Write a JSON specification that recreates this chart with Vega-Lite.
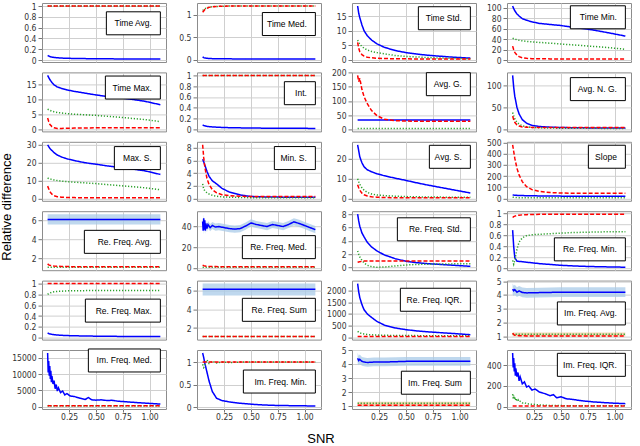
{
  "$schema": "https://vega.github.io/schema/vega-lite/v6.json",
  "background": "white",
  "padding": {"left": 0, "top": 1, "right": 0, "bottom": 0},
  "config": {
    "font": "Liberation Sans",
    "view": {"stroke": "#8c8c8c", "strokeWidth": 1},
    "axis": {
      "grid": true, "gridColor": "#cfcfcf", "gridWidth": 1, "domain": false,
      "tickColor": "#777", "tickSize": 4, "labelFont": "Liberation Sans Narrow, DejaVu Sans Condensed, Liberation Sans",
      "labelFontSize": 8.5, "labelColor": "#333", "labelPadding": 2
    },
    "axisX": {"labelPadding": 0, "tickSize": 3}
  },
  "data": {"values": [
    {"p":"Time Avg.","x":0.05,"b":0.085,"g":1,"r":1},{"p":"Time Avg.","x":0.06,"b":0.075,"g":1,"r":1},{"p":"Time Avg.","x":0.07,"b":0.065,"g":1,"r":1},{"p":"Time Avg.","x":0.09,"b":0.055,"g":1,"r":1},
    {"p":"Time Avg.","x":0.11,"b":0.048,"g":1,"r":1},{"p":"Time Avg.","x":0.14,"b":0.042,"g":1,"r":1},{"p":"Time Avg.","x":0.18,"b":0.037,"g":1,"r":1},{"p":"Time Avg.","x":0.23,"b":0.033,"g":1,"r":1},
    {"p":"Time Avg.","x":0.3,"b":0.03,"g":1,"r":1},{"p":"Time Avg.","x":0.4,"b":0.027,"g":1,"r":1},{"p":"Time Avg.","x":0.5,"b":0.025,"g":1,"r":1},{"p":"Time Avg.","x":0.6,"b":0.023,"g":1,"r":1},
    {"p":"Time Avg.","x":0.7,"b":0.022,"g":1,"r":1},{"p":"Time Avg.","x":0.8,"b":0.021,"g":1,"r":1},{"p":"Time Avg.","x":0.95,"b":0.02,"g":1,"r":1},{"p":"Time Avg.","x":1.1,"b":0.02,"g":1,"r":1},

    {"p":"Time Med.","x":0.05,"b":0.06,"g":1.09,"r":1.05},{"p":"Time Med.","x":0.06,"b":0.045,"g":1.11,"r":1.08},{"p":"Time Med.","x":0.07,"b":0.038,"g":1.13,"r":1.11},{"p":"Time Med.","x":0.09,"b":0.03,"g":1.15,"r":1.14},
    {"p":"Time Med.","x":0.11,"b":0.026,"g":1.165,"r":1.16},{"p":"Time Med.","x":0.14,"b":0.023,"g":1.175,"r":1.175},{"p":"Time Med.","x":0.18,"b":0.021,"g":1.18,"r":1.18},{"p":"Time Med.","x":0.23,"b":0.019,"g":1.185,"r":1.185},
    {"p":"Time Med.","x":0.3,"b":0.018,"g":1.19,"r":1.19},{"p":"Time Med.","x":0.4,"b":0.017,"g":1.19,"r":1.19},{"p":"Time Med.","x":0.5,"b":0.016,"g":1.19,"r":1.19},{"p":"Time Med.","x":0.6,"b":0.016,"g":1.19,"r":1.19},
    {"p":"Time Med.","x":0.7,"b":0.015,"g":1.19,"r":1.19},{"p":"Time Med.","x":0.8,"b":0.015,"g":1.19,"r":1.19},{"p":"Time Med.","x":0.95,"b":0.015,"g":1.19,"r":1.19},{"p":"Time Med.","x":1.1,"b":0.015,"g":1.19,"r":1.19},

    {"p":"Time Std.","x":0.05,"b":18.5,"g":6.8,"r":6.0},{"p":"Time Std.","x":0.06,"b":16,"g":6.0,"r":4.0},{"p":"Time Std.","x":0.07,"b":14.5,"g":5.4,"r":2.8},{"p":"Time Std.","x":0.09,"b":12,"g":4.6,"r":1.8},
    {"p":"Time Std.","x":0.11,"b":10,"g":4.0,"r":1.3},{"p":"Time Std.","x":0.14,"b":8.3,"g":3.4,"r":0.9},{"p":"Time Std.","x":0.18,"b":6.8,"g":2.9,"r":0.7},{"p":"Time Std.","x":0.23,"b":5.5,"g":2.5,"r":0.55},
    {"p":"Time Std.","x":0.3,"b":4.3,"g":2.1,"r":0.45},{"p":"Time Std.","x":0.4,"b":3.2,"g":1.5,"r":0.4},{"p":"Time Std.","x":0.5,"b":2.5,"g":1.2,"r":0.35},{"p":"Time Std.","x":0.6,"b":2.0,"g":1.0,"r":0.32},
    {"p":"Time Std.","x":0.7,"b":1.6,"g":0.8,"r":0.3},{"p":"Time Std.","x":0.8,"b":1.3,"g":0.65,"r":0.3},{"p":"Time Std.","x":0.95,"b":0.9,"g":0.5,"r":0.3},{"p":"Time Std.","x":1.1,"b":0.6,"g":0.35,"r":0.3},

    {"p":"Time Min.","x":0.05,"b":103,"g":42,"r":27},{"p":"Time Min.","x":0.06,"b":98,"g":41,"r":20},{"p":"Time Min.","x":0.07,"b":94,"g":40.5,"r":15},{"p":"Time Min.","x":0.09,"b":88,"g":39,"r":10},
    {"p":"Time Min.","x":0.11,"b":84,"g":38,"r":7},{"p":"Time Min.","x":0.14,"b":79,"g":37,"r":5},{"p":"Time Min.","x":0.18,"b":76,"g":36,"r":4},{"p":"Time Min.","x":0.23,"b":73,"g":35,"r":3.2},
    {"p":"Time Min.","x":0.3,"b":70,"g":34,"r":3},{"p":"Time Min.","x":0.4,"b":68,"g":32.5,"r":2.8},{"p":"Time Min.","x":0.5,"b":66,"g":31,"r":2.7},{"p":"Time Min.","x":0.6,"b":63,"g":29.5,"r":2.6},
    {"p":"Time Min.","x":0.7,"b":60.5,"g":28,"r":2.6},{"p":"Time Min.","x":0.8,"b":57.5,"g":26.5,"r":2.6},{"p":"Time Min.","x":0.95,"b":52,"g":24,"r":2.6},{"p":"Time Min.","x":1.1,"b":46,"g":21,"r":2.6},

    {"p":"Time Max.","x":0.05,"b":18.2,"g":6.8,"r":3.8},{"p":"Time Max.","x":0.06,"b":17.5,"g":6.6,"r":2.6},{"p":"Time Max.","x":0.07,"b":16.8,"g":6.4,"r":1.7},{"p":"Time Max.","x":0.09,"b":15.8,"g":6.1,"r":0.9},
    {"p":"Time Max.","x":0.11,"b":15.0,"g":5.9,"r":0.5},{"p":"Time Max.","x":0.14,"b":14.3,"g":5.7,"r":0.3},{"p":"Time Max.","x":0.18,"b":13.8,"g":5.5,"r":0.3},{"p":"Time Max.","x":0.23,"b":13.3,"g":5.3,"r":0.35},
    {"p":"Time Max.","x":0.3,"b":12.8,"g":5.1,"r":0.4},{"p":"Time Max.","x":0.4,"b":12.2,"g":4.9,"r":0.45},{"p":"Time Max.","x":0.5,"b":11.6,"g":4.7,"r":0.5},{"p":"Time Max.","x":0.6,"b":11.1,"g":4.4,"r":0.5},
    {"p":"Time Max.","x":0.7,"b":10.7,"g":4.1,"r":0.5},{"p":"Time Max.","x":0.8,"b":10.3,"g":3.8,"r":0.5},{"p":"Time Max.","x":0.95,"b":9.5,"g":3.3,"r":0.5},{"p":"Time Max.","x":1.1,"b":8.3,"g":2.6,"r":0.5},

    {"p":"Int.","x":0.05,"b":0.08,"g":1,"r":1},{"p":"Int.","x":0.06,"b":0.07,"g":1,"r":1},{"p":"Int.","x":0.07,"b":0.065,"g":1,"r":1},{"p":"Int.","x":0.09,"b":0.055,"g":1,"r":1},
    {"p":"Int.","x":0.11,"b":0.05,"g":1,"r":1},{"p":"Int.","x":0.14,"b":0.045,"g":1,"r":1},{"p":"Int.","x":0.18,"b":0.04,"g":1,"r":1},{"p":"Int.","x":0.23,"b":0.035,"g":1,"r":1},
    {"p":"Int.","x":0.3,"b":0.03,"g":1,"r":1},{"p":"Int.","x":0.4,"b":0.027,"g":1,"r":1},{"p":"Int.","x":0.5,"b":0.024,"g":1,"r":1},{"p":"Int.","x":0.6,"b":0.022,"g":1,"r":1},
    {"p":"Int.","x":0.7,"b":0.02,"g":1,"r":1},{"p":"Int.","x":0.8,"b":0.019,"g":1,"r":1},{"p":"Int.","x":0.95,"b":0.018,"g":1,"r":1},{"p":"Int.","x":1.1,"b":0.017,"g":1,"r":1},

    {"p":"Avg. G.","x":0.05,"b":33,"g":3,"r":190},{"p":"Avg. G.","x":0.06,"b":33,"g":3,"r":168},{"p":"Avg. G.","x":0.07,"b":33,"g":3,"r":180},{"p":"Avg. G.","x":0.09,"b":33,"g":3,"r":140},
    {"p":"Avg. G.","x":0.11,"b":33,"g":3,"r":115},{"p":"Avg. G.","x":0.14,"b":33,"g":3,"r":90},{"p":"Avg. G.","x":0.18,"b":33,"g":3,"r":66},{"p":"Avg. G.","x":0.23,"b":33,"g":3,"r":48},
    {"p":"Avg. G.","x":0.3,"b":33,"g":3,"r":35},{"p":"Avg. G.","x":0.4,"b":33,"g":3,"r":30},{"p":"Avg. G.","x":0.5,"b":33,"g":3,"r":29},{"p":"Avg. G.","x":0.6,"b":33,"g":3,"r":28},
    {"p":"Avg. G.","x":0.7,"b":33,"g":3,"r":28},{"p":"Avg. G.","x":0.8,"b":33,"g":3,"r":28},{"p":"Avg. G.","x":0.95,"b":33,"g":3,"r":28},{"p":"Avg. G.","x":1.1,"b":33,"g":3,"r":28},

    {"p":"Avg. N. G.","x":0.05,"b":122,"g":38,"r":30},{"p":"Avg. N. G.","x":0.06,"b":95,"g":30,"r":22},{"p":"Avg. N. G.","x":0.07,"b":75,"g":24,"r":16},{"p":"Avg. N. G.","x":0.09,"b":50,"g":16,"r":10},
    {"p":"Avg. N. G.","x":0.11,"b":35,"g":12,"r":7.5},{"p":"Avg. N. G.","x":0.14,"b":22,"g":8,"r":5.5},{"p":"Avg. N. G.","x":0.18,"b":14,"g":6,"r":4.8},{"p":"Avg. N. G.","x":0.23,"b":9,"g":4.5,"r":4.5},
    {"p":"Avg. N. G.","x":0.3,"b":6.5,"g":3.5,"r":4.5},{"p":"Avg. N. G.","x":0.4,"b":5,"g":3,"r":4.5},{"p":"Avg. N. G.","x":0.5,"b":4.2,"g":2.7,"r":4.5},{"p":"Avg. N. G.","x":0.6,"b":3.8,"g":2.5,"r":4.5},
    {"p":"Avg. N. G.","x":0.7,"b":3.5,"g":2.4,"r":4.5},{"p":"Avg. N. G.","x":0.8,"b":3.3,"g":2.3,"r":4.5},{"p":"Avg. N. G.","x":0.95,"b":3.1,"g":2.2,"r":4.5},{"p":"Avg. N. G.","x":1.1,"b":3.0,"g":2.2,"r":4.5},

    {"p":"Max. S.","x":0.05,"b":30,"g":11.5,"r":7},{"p":"Max. S.","x":0.06,"b":29,"g":11.2,"r":5.5},{"p":"Max. S.","x":0.07,"b":28,"g":11,"r":4},{"p":"Max. S.","x":0.09,"b":26.8,"g":10.7,"r":2.5},
    {"p":"Max. S.","x":0.11,"b":25.6,"g":10.4,"r":1.6},{"p":"Max. S.","x":0.14,"b":24.3,"g":10.1,"r":1.1},{"p":"Max. S.","x":0.18,"b":23.2,"g":9.8,"r":0.8},{"p":"Max. S.","x":0.23,"b":22.2,"g":9.5,"r":0.7},
    {"p":"Max. S.","x":0.3,"b":21.2,"g":9.2,"r":0.6},{"p":"Max. S.","x":0.4,"b":20,"g":8.8,"r":0.55},{"p":"Max. S.","x":0.5,"b":19.2,"g":8.4,"r":0.5},{"p":"Max. S.","x":0.6,"b":18.3,"g":7.9,"r":0.5},
    {"p":"Max. S.","x":0.7,"b":17.6,"g":7.4,"r":0.5},{"p":"Max. S.","x":0.8,"b":16.8,"g":6.9,"r":0.5},{"p":"Max. S.","x":0.95,"b":15.6,"g":6.1,"r":0.5},{"p":"Max. S.","x":1.1,"b":13.5,"g":5.0,"r":0.5},

    {"p":"Min. S.","x":0.05,"b":6.2,"g":2.3,"r":8.5},{"p":"Min. S.","x":0.06,"b":5.8,"g":1.5,"r":6.5},{"p":"Min. S.","x":0.07,"b":5.3,"g":1.2,"r":5},{"p":"Min. S.","x":0.09,"b":4.3,"g":0.9,"r":3.2},
    {"p":"Min. S.","x":0.11,"b":3.5,"g":0.7,"r":2.2},{"p":"Min. S.","x":0.14,"b":2.8,"g":0.5,"r":1.4},{"p":"Min. S.","x":0.18,"b":2.3,"g":0.35,"r":0.9},{"p":"Min. S.","x":0.23,"b":1.6,"g":0.25,"r":0.6},
    {"p":"Min. S.","x":0.3,"b":1.0,"g":0.2,"r":0.45},{"p":"Min. S.","x":0.4,"b":0.55,"g":0.15,"r":0.35},{"p":"Min. S.","x":0.5,"b":0.3,"g":0.12,"r":0.3},{"p":"Min. S.","x":0.6,"b":0.25,"g":0.1,"r":0.3},
    {"p":"Min. S.","x":0.7,"b":0.22,"g":0.1,"r":0.3},{"p":"Min. S.","x":0.8,"b":0.2,"g":0.1,"r":0.3},{"p":"Min. S.","x":0.95,"b":0.2,"g":0.1,"r":0.3},{"p":"Min. S.","x":1.1,"b":0.2,"g":0.1,"r":0.3},

    {"p":"Avg. S.","x":0.05,"b":27,"g":10,"r":7},{"p":"Avg. S.","x":0.06,"b":24,"g":8.5,"r":5.5},{"p":"Avg. S.","x":0.07,"b":21,"g":7.2,"r":4.3},{"p":"Avg. S.","x":0.09,"b":18,"g":5.5,"r":2.8},
    {"p":"Avg. S.","x":0.11,"b":16,"g":4.3,"r":2.0},{"p":"Avg. S.","x":0.14,"b":14.5,"g":3.2,"r":1.4},{"p":"Avg. S.","x":0.18,"b":13.5,"g":2.4,"r":1.0},{"p":"Avg. S.","x":0.23,"b":12.5,"g":1.9,"r":0.8},
    {"p":"Avg. S.","x":0.3,"b":11.5,"g":1.6,"r":0.65},{"p":"Avg. S.","x":0.4,"b":10.3,"g":1.3,"r":0.55},{"p":"Avg. S.","x":0.5,"b":9.2,"g":1.1,"r":0.5},{"p":"Avg. S.","x":0.6,"b":8,"g":1.0,"r":0.5},
    {"p":"Avg. S.","x":0.7,"b":6.9,"g":0.9,"r":0.5},{"p":"Avg. S.","x":0.8,"b":5.9,"g":0.85,"r":0.5},{"p":"Avg. S.","x":0.95,"b":4.4,"g":0.8,"r":0.5},{"p":"Avg. S.","x":1.1,"b":2.9,"g":0.8,"r":0.5},

    {"p":"Slope","x":0.05,"b":30,"g":10,"r":480},{"p":"Slope","x":0.06,"b":29,"g":9,"r":420},{"p":"Slope","x":0.07,"b":28,"g":8,"r":360},{"p":"Slope","x":0.09,"b":27,"g":7,"r":270},
    {"p":"Slope","x":0.11,"b":26,"g":6,"r":210},{"p":"Slope","x":0.14,"b":25,"g":6,"r":150},{"p":"Slope","x":0.18,"b":24,"g":5,"r":105},{"p":"Slope","x":0.23,"b":23,"g":5,"r":78},
    {"p":"Slope","x":0.3,"b":22,"g":5,"r":62},{"p":"Slope","x":0.4,"b":21,"g":5,"r":52},{"p":"Slope","x":0.5,"b":20,"g":5,"r":48},{"p":"Slope","x":0.6,"b":20,"g":5,"r":46},
    {"p":"Slope","x":0.7,"b":19,"g":5,"r":45},{"p":"Slope","x":0.8,"b":19,"g":5,"r":45},{"p":"Slope","x":0.95,"b":18,"g":5,"r":45},{"p":"Slope","x":1.1,"b":18,"g":5,"r":45},

    {"p":"Re. Freq. Avg.","x":0.05,"b":6.1,"lo":5.55,"hi":6.65,"g":1.05,"r":1.4},{"p":"Re. Freq. Avg.","x":0.06,"b":6.1,"lo":5.55,"hi":6.65,"g":1.05,"r":1.3},
    {"p":"Re. Freq. Avg.","x":0.07,"b":6.1,"lo":5.55,"hi":6.65,"g":1.05,"r":1.25},{"p":"Re. Freq. Avg.","x":0.09,"b":6.1,"lo":5.55,"hi":6.65,"g":1.05,"r":1.2},
    {"p":"Re. Freq. Avg.","x":0.11,"b":6.1,"lo":5.55,"hi":6.65,"g":1.05,"r":1.17},{"p":"Re. Freq. Avg.","x":0.14,"b":6.1,"lo":5.55,"hi":6.65,"g":1.05,"r":1.15},
    {"p":"Re. Freq. Avg.","x":0.18,"b":6.1,"lo":5.55,"hi":6.65,"g":1.05,"r":1.13},{"p":"Re. Freq. Avg.","x":0.23,"b":6.1,"lo":5.55,"hi":6.65,"g":1.05,"r":1.12},
    {"p":"Re. Freq. Avg.","x":0.3,"b":6.1,"lo":5.55,"hi":6.65,"g":1.05,"r":1.1},{"p":"Re. Freq. Avg.","x":0.5,"b":6.1,"lo":5.55,"hi":6.65,"g":1.05,"r":1.1},
    {"p":"Re. Freq. Avg.","x":0.8,"b":6.1,"lo":5.55,"hi":6.65,"g":1.05,"r":1.1},{"p":"Re. Freq. Avg.","x":1.1,"b":6.1,"lo":5.55,"hi":6.65,"g":1.05,"r":1.1},

    {"p":"Re. Freq. Med.","x":0.05,"b":45,"lo":41,"hi":49,"g":0.5,"r":2.5},{"p":"Re. Freq. Med.","x":0.055,"b":36,"lo":32,"hi":40,"g":0.5,"r":2.3},
    {"p":"Re. Freq. Med.","x":0.06,"b":48,"lo":44,"hi":52,"g":0.5,"r":2.0},{"p":"Re. Freq. Med.","x":0.065,"b":37,"lo":33.5,"hi":40.5,"g":0.5,"r":1.8},
    {"p":"Re. Freq. Med.","x":0.07,"b":46,"lo":42.5,"hi":49.5,"g":0.5,"r":1.7},{"p":"Re. Freq. Med.","x":0.075,"b":36,"lo":32.5,"hi":39.5,"g":0.5,"r":1.6},
    {"p":"Re. Freq. Med.","x":0.08,"b":43,"lo":39.5,"hi":46.5,"g":0.5,"r":1.5},{"p":"Re. Freq. Med.","x":0.09,"b":38,"lo":34.5,"hi":41.5,"g":0.5,"r":1.4},
    {"p":"Re. Freq. Med.","x":0.1,"b":42,"lo":38.5,"hi":45.5,"g":0.5,"r":1.3},{"p":"Re. Freq. Med.","x":0.12,"b":39,"lo":35.5,"hi":42.5,"g":0.5,"r":1.2},
    {"p":"Re. Freq. Med.","x":0.14,"b":41,"lo":37.5,"hi":44.5,"g":0.5,"r":1.15},{"p":"Re. Freq. Med.","x":0.17,"b":39.5,"lo":36,"hi":43,"g":0.5,"r":1.1},
    {"p":"Re. Freq. Med.","x":0.2,"b":40,"lo":36.5,"hi":43.5,"g":0.5,"r":1.05},{"p":"Re. Freq. Med.","x":0.25,"b":39,"lo":35.5,"hi":42.5,"g":0.5,"r":1},
    {"p":"Re. Freq. Med.","x":0.3,"b":38,"lo":34.5,"hi":41.5,"g":0.5,"r":1},{"p":"Re. Freq. Med.","x":0.35,"b":37.5,"lo":34,"hi":41,"g":0.5,"r":1},
    {"p":"Re. Freq. Med.","x":0.4,"b":38,"lo":34.5,"hi":41.5,"g":0.5,"r":1},{"p":"Re. Freq. Med.","x":0.45,"b":40.5,"lo":37,"hi":44,"g":0.5,"r":1},
    {"p":"Re. Freq. Med.","x":0.5,"b":43.5,"lo":40,"hi":47,"g":0.5,"r":1},{"p":"Re. Freq. Med.","x":0.55,"b":42,"lo":38.5,"hi":45.5,"g":0.5,"r":1},
    {"p":"Re. Freq. Med.","x":0.6,"b":41,"lo":37.5,"hi":44.5,"g":0.5,"r":1},{"p":"Re. Freq. Med.","x":0.65,"b":40,"lo":36.5,"hi":43.5,"g":0.5,"r":1},
    {"p":"Re. Freq. Med.","x":0.7,"b":42,"lo":38.5,"hi":45.5,"g":0.5,"r":1},{"p":"Re. Freq. Med.","x":0.75,"b":41,"lo":37.5,"hi":44.5,"g":0.5,"r":1},
    {"p":"Re. Freq. Med.","x":0.8,"b":40,"lo":36.5,"hi":43.5,"g":0.5,"r":1},{"p":"Re. Freq. Med.","x":0.85,"b":42,"lo":38.5,"hi":45.5,"g":0.5,"r":1},
    {"p":"Re. Freq. Med.","x":0.9,"b":44.5,"lo":41,"hi":48,"g":0.5,"r":1},{"p":"Re. Freq. Med.","x":0.95,"b":43,"lo":39.5,"hi":46.5,"g":0.5,"r":1},
    {"p":"Re. Freq. Med.","x":1.0,"b":41,"lo":37.5,"hi":44.5,"g":0.5,"r":1},{"p":"Re. Freq. Med.","x":1.05,"b":39,"lo":35.5,"hi":42.5,"g":0.5,"r":1},
    {"p":"Re. Freq. Med.","x":1.1,"b":37,"lo":33.5,"hi":40.5,"g":0.5,"r":1},

    {"p":"Re. Freq. Std.","x":0.05,"b":8,"g":2.5,"r":0.8},{"p":"Re. Freq. Std.","x":0.06,"b":7,"g":2.0,"r":0.85},{"p":"Re. Freq. Std.","x":0.07,"b":6.2,"g":1.6,"r":0.9},{"p":"Re. Freq. Std.","x":0.09,"b":5.2,"g":1.1,"r":0.95},
    {"p":"Re. Freq. Std.","x":0.11,"b":4.6,"g":0.7,"r":0.98},{"p":"Re. Freq. Std.","x":0.14,"b":3.8,"g":0.35,"r":1},{"p":"Re. Freq. Std.","x":0.18,"b":3.1,"g":0.15,"r":1},{"p":"Re. Freq. Std.","x":0.23,"b":2.5,"g":0.07,"r":1},
    {"p":"Re. Freq. Std.","x":0.3,"b":1.9,"g":0.1,"r":1},{"p":"Re. Freq. Std.","x":0.4,"b":1.35,"g":0.25,"r":1},{"p":"Re. Freq. Std.","x":0.5,"b":0.95,"g":0.4,"r":1},{"p":"Re. Freq. Std.","x":0.6,"b":0.75,"g":0.48,"r":1},
    {"p":"Re. Freq. Std.","x":0.7,"b":0.6,"g":0.52,"r":1},{"p":"Re. Freq. Std.","x":0.8,"b":0.5,"g":0.55,"r":1},{"p":"Re. Freq. Std.","x":0.95,"b":0.35,"g":0.57,"r":1},{"p":"Re. Freq. Std.","x":1.1,"b":0.2,"g":0.58,"r":1},

    {"p":"Re. Freq. Min.","x":0.05,"b":0.7,"g":0.15,"r":0.93},{"p":"Re. Freq. Min.","x":0.06,"b":0.4,"g":0.08,"r":0.945},{"p":"Re. Freq. Min.","x":0.07,"b":0.2,"g":0.15,"r":0.955},{"p":"Re. Freq. Min.","x":0.09,"b":0.135,"g":0.35,"r":0.965},
    {"p":"Re. Freq. Min.","x":0.11,"b":0.13,"g":0.48,"r":0.972},{"p":"Re. Freq. Min.","x":0.14,"b":0.125,"g":0.56,"r":0.978},{"p":"Re. Freq. Min.","x":0.18,"b":0.115,"g":0.6,"r":0.982},{"p":"Re. Freq. Min.","x":0.23,"b":0.105,"g":0.615,"r":0.985},
    {"p":"Re. Freq. Min.","x":0.3,"b":0.09,"g":0.625,"r":0.988},{"p":"Re. Freq. Min.","x":0.4,"b":0.075,"g":0.635,"r":0.99},{"p":"Re. Freq. Min.","x":0.5,"b":0.06,"g":0.645,"r":0.99},{"p":"Re. Freq. Min.","x":0.6,"b":0.05,"g":0.655,"r":0.99},
    {"p":"Re. Freq. Min.","x":0.7,"b":0.042,"g":0.66,"r":0.99},{"p":"Re. Freq. Min.","x":0.8,"b":0.036,"g":0.665,"r":0.99},{"p":"Re. Freq. Min.","x":0.95,"b":0.03,"g":0.67,"r":0.99},{"p":"Re. Freq. Min.","x":1.1,"b":0.025,"g":0.67,"r":0.99},

    {"p":"Re. Freq. Max.","x":0.05,"b":0.085,"g":0.8,"r":1},{"p":"Re. Freq. Max.","x":0.06,"b":0.075,"g":0.815,"r":1},{"p":"Re. Freq. Max.","x":0.07,"b":0.068,"g":0.825,"r":1},{"p":"Re. Freq. Max.","x":0.09,"b":0.06,"g":0.84,"r":1},
    {"p":"Re. Freq. Max.","x":0.11,"b":0.054,"g":0.85,"r":1},{"p":"Re. Freq. Max.","x":0.14,"b":0.048,"g":0.855,"r":1},{"p":"Re. Freq. Max.","x":0.18,"b":0.043,"g":0.86,"r":1},{"p":"Re. Freq. Max.","x":0.23,"b":0.038,"g":0.865,"r":1},
    {"p":"Re. Freq. Max.","x":0.3,"b":0.034,"g":0.868,"r":1},{"p":"Re. Freq. Max.","x":0.4,"b":0.03,"g":0.87,"r":1},{"p":"Re. Freq. Max.","x":0.5,"b":0.027,"g":0.87,"r":1},{"p":"Re. Freq. Max.","x":0.6,"b":0.025,"g":0.87,"r":1},
    {"p":"Re. Freq. Max.","x":0.7,"b":0.023,"g":0.87,"r":1},{"p":"Re. Freq. Max.","x":0.8,"b":0.022,"g":0.87,"r":1},{"p":"Re. Freq. Max.","x":0.95,"b":0.02,"g":0.87,"r":1},{"p":"Re. Freq. Max.","x":1.1,"b":0.019,"g":0.87,"r":1},

    {"p":"Re. Freq. Sum","x":0.05,"b":6.1,"lo":5.45,"hi":6.7,"g":1.1,"r":1.1},{"p":"Re. Freq. Sum","x":0.3,"b":6.1,"lo":5.45,"hi":6.7,"g":1.1,"r":1.1},
    {"p":"Re. Freq. Sum","x":0.6,"b":6.1,"lo":5.45,"hi":6.7,"g":1.1,"r":1.1},{"p":"Re. Freq. Sum","x":1.1,"b":6.1,"lo":5.45,"hi":6.7,"g":1.1,"r":1.1},

    {"p":"Re. Freq. IQR.","x":0.05,"b":2300,"g":250,"r":30},{"p":"Re. Freq. IQR.","x":0.06,"b":1950,"g":220,"r":30},{"p":"Re. Freq. IQR.","x":0.07,"b":1700,"g":190,"r":30},{"p":"Re. Freq. IQR.","x":0.09,"b":1400,"g":160,"r":30},
    {"p":"Re. Freq. IQR.","x":0.11,"b":1180,"g":140,"r":30},{"p":"Re. Freq. IQR.","x":0.14,"b":1000,"g":120,"r":30},{"p":"Re. Freq. IQR.","x":0.18,"b":850,"g":105,"r":30},{"p":"Re. Freq. IQR.","x":0.23,"b":680,"g":95,"r":30},
    {"p":"Re. Freq. IQR.","x":0.3,"b":520,"g":85,"r":30},{"p":"Re. Freq. IQR.","x":0.4,"b":400,"g":80,"r":30},{"p":"Re. Freq. IQR.","x":0.5,"b":327,"g":75,"r":30},{"p":"Re. Freq. IQR.","x":0.6,"b":275,"g":72,"r":30},
    {"p":"Re. Freq. IQR.","x":0.7,"b":235,"g":70,"r":30},{"p":"Re. Freq. IQR.","x":0.8,"b":205,"g":68,"r":30},{"p":"Re. Freq. IQR.","x":0.95,"b":160,"g":66,"r":30},{"p":"Re. Freq. IQR.","x":1.1,"b":110,"g":65,"r":30},

    {"p":"Im. Freq. Avg.","x":0.05,"b":4.42,"lo":4.02,"hi":4.82,"g":1.17,"glo":1.0,"ghi":1.3,"r":1.25},{"p":"Im. Freq. Avg.","x":0.06,"b":4.3,"lo":3.93,"hi":4.67,"g":1.17,"glo":1.0,"ghi":1.3,"r":1.15},
    {"p":"Im. Freq. Avg.","x":0.07,"b":4.38,"lo":4.02,"hi":4.74,"g":1.17,"glo":1.0,"ghi":1.3,"r":1.1},{"p":"Im. Freq. Avg.","x":0.09,"b":4.2,"lo":3.85,"hi":4.55,"g":1.17,"glo":1.0,"ghi":1.3,"r":1.08},
    {"p":"Im. Freq. Avg.","x":0.11,"b":4.3,"lo":3.95,"hi":4.65,"g":1.17,"glo":1.0,"ghi":1.3,"r":1.07},{"p":"Im. Freq. Avg.","x":0.14,"b":4.18,"lo":3.83,"hi":4.53,"g":1.17,"glo":1.0,"ghi":1.3,"r":1.06},
    {"p":"Im. Freq. Avg.","x":0.18,"b":4.15,"lo":3.8,"hi":4.5,"g":1.17,"glo":1.0,"ghi":1.3,"r":1.05},{"p":"Im. Freq. Avg.","x":0.3,"b":4.17,"lo":3.82,"hi":4.52,"g":1.17,"glo":1.0,"ghi":1.3,"r":1.05},
    {"p":"Im. Freq. Avg.","x":0.5,"b":4.2,"lo":3.85,"hi":4.55,"g":1.17,"glo":1.0,"ghi":1.3,"r":1.05},{"p":"Im. Freq. Avg.","x":0.8,"b":4.2,"lo":3.85,"hi":4.55,"g":1.17,"glo":1.0,"ghi":1.3,"r":1.05},
    {"p":"Im. Freq. Avg.","x":1.1,"b":4.2,"lo":3.85,"hi":4.55,"g":1.17,"glo":1.0,"ghi":1.3,"r":1.05},

    {"p":"Im. Freq. Med.","x":0.05,"b":16500,"g":250,"r":250},{"p":"Im. Freq. Med.","x":0.055,"b":10500,"g":200,"r":250},{"p":"Im. Freq. Med.","x":0.06,"b":14000,"g":300,"r":250},
    {"p":"Im. Freq. Med.","x":0.065,"b":9500,"g":200,"r":250},{"p":"Im. Freq. Med.","x":0.07,"b":12500,"g":250,"r":250},{"p":"Im. Freq. Med.","x":0.075,"b":8500,"g":200,"r":250},
    {"p":"Im. Freq. Med.","x":0.08,"b":11000,"g":220,"r":250},{"p":"Im. Freq. Med.","x":0.085,"b":7500,"g":200,"r":250},{"p":"Im. Freq. Med.","x":0.09,"b":9500,"g":220,"r":250},
    {"p":"Im. Freq. Med.","x":0.1,"b":7000,"g":200,"r":250},{"p":"Im. Freq. Med.","x":0.11,"b":8000,"g":200,"r":250},{"p":"Im. Freq. Med.","x":0.12,"b":5500,"g":200,"r":250},
    {"p":"Im. Freq. Med.","x":0.13,"b":6800,"g":200,"r":250},{"p":"Im. Freq. Med.","x":0.14,"b":4800,"g":200,"r":250},{"p":"Im. Freq. Med.","x":0.15,"b":5800,"g":200,"r":250},
    {"p":"Im. Freq. Med.","x":0.17,"b":4300,"g":200,"r":250},{"p":"Im. Freq. Med.","x":0.19,"b":4800,"g":200,"r":250},{"p":"Im. Freq. Med.","x":0.21,"b":3600,"g":200,"r":250},
    {"p":"Im. Freq. Med.","x":0.23,"b":4000,"g":200,"r":250},{"p":"Im. Freq. Med.","x":0.26,"b":3300,"g":200,"r":250},{"p":"Im. Freq. Med.","x":0.3,"b":3100,"g":200,"r":250},
    {"p":"Im. Freq. Med.","x":0.35,"b":2600,"g":200,"r":250},{"p":"Im. Freq. Med.","x":0.4,"b":2200,"g":200,"r":250},{"p":"Im. Freq. Med.","x":0.43,"b":2800,"g":200,"r":250},
    {"p":"Im. Freq. Med.","x":0.46,"b":2100,"g":200,"r":250},{"p":"Im. Freq. Med.","x":0.5,"b":2000,"g":200,"r":250},{"p":"Im. Freq. Med.","x":0.55,"b":2100,"g":200,"r":250},
    {"p":"Im. Freq. Med.","x":0.6,"b":1900,"g":200,"r":250},{"p":"Im. Freq. Med.","x":0.65,"b":1950,"g":200,"r":250},{"p":"Im. Freq. Med.","x":0.7,"b":1700,"g":200,"r":250},
    {"p":"Im. Freq. Med.","x":0.8,"b":1450,"g":200,"r":250},{"p":"Im. Freq. Med.","x":0.9,"b":1200,"g":200,"r":250},{"p":"Im. Freq. Med.","x":1.0,"b":1000,"g":200,"r":250},
    {"p":"Im. Freq. Med.","x":1.1,"b":800,"g":200,"r":250},

    {"p":"Im. Freq. Min.","x":0.05,"b":1.2,"g":0.95,"r":1},{"p":"Im. Freq. Min.","x":0.06,"b":1.1,"g":0.88,"r":1},{"p":"Im. Freq. Min.","x":0.07,"b":0.98,"g":0.92,"r":1},{"p":"Im. Freq. Min.","x":0.09,"b":0.78,"g":1.05,"r":1},
    {"p":"Im. Freq. Min.","x":0.11,"b":0.58,"g":0.97,"r":1},{"p":"Im. Freq. Min.","x":0.14,"b":0.35,"g":1.02,"r":1},{"p":"Im. Freq. Min.","x":0.18,"b":0.2,"g":0.98,"r":1},{"p":"Im. Freq. Min.","x":0.23,"b":0.15,"g":1.0,"r":1},
    {"p":"Im. Freq. Min.","x":0.3,"b":0.12,"g":0.99,"r":1},{"p":"Im. Freq. Min.","x":0.4,"b":0.09,"g":1,"r":1},{"p":"Im. Freq. Min.","x":0.5,"b":0.07,"g":1,"r":1},{"p":"Im. Freq. Min.","x":0.6,"b":0.055,"g":1,"r":1},
    {"p":"Im. Freq. Min.","x":0.7,"b":0.045,"g":1,"r":1},{"p":"Im. Freq. Min.","x":0.8,"b":0.04,"g":1,"r":1},{"p":"Im. Freq. Min.","x":0.95,"b":0.035,"g":1,"r":1},{"p":"Im. Freq. Min.","x":1.1,"b":0.03,"g":1,"r":1},

    {"p":"Im. Freq. Sum","x":0.05,"b":4.42,"lo":4.05,"hi":4.8,"g":1.2,"glo":1.0,"ghi":1.3,"r":1.05},{"p":"Im. Freq. Sum","x":0.06,"b":4.25,"lo":3.92,"hi":4.6,"g":1.2,"glo":1.0,"ghi":1.3,"r":1.05},
    {"p":"Im. Freq. Sum","x":0.07,"b":4.35,"lo":4.02,"hi":4.7,"g":1.2,"glo":1.0,"ghi":1.3,"r":1.05},{"p":"Im. Freq. Sum","x":0.09,"b":4.2,"lo":3.88,"hi":4.52,"g":1.2,"glo":1.0,"ghi":1.3,"r":1.05},
    {"p":"Im. Freq. Sum","x":0.11,"b":4.15,"lo":3.85,"hi":4.47,"g":1.2,"glo":1.0,"ghi":1.3,"r":1.05},{"p":"Im. Freq. Sum","x":0.14,"b":4.12,"lo":3.82,"hi":4.44,"g":1.2,"glo":1.0,"ghi":1.3,"r":1.05},
    {"p":"Im. Freq. Sum","x":0.2,"b":4.15,"lo":3.85,"hi":4.47,"g":1.2,"glo":1.0,"ghi":1.3,"r":1.05},{"p":"Im. Freq. Sum","x":0.3,"b":4.15,"lo":3.85,"hi":4.47,"g":1.2,"glo":1.0,"ghi":1.3,"r":1.05},
    {"p":"Im. Freq. Sum","x":0.5,"b":4.2,"lo":3.88,"hi":4.52,"g":1.2,"glo":1.0,"ghi":1.3,"r":1.05},{"p":"Im. Freq. Sum","x":0.8,"b":4.2,"lo":3.88,"hi":4.52,"g":1.2,"glo":1.0,"ghi":1.3,"r":1.05},
    {"p":"Im. Freq. Sum","x":1.1,"b":4.2,"lo":3.88,"hi":4.52,"g":1.2,"glo":1.0,"ghi":1.3,"r":1.05},

    {"p":"Im. Freq. IQR.","x":0.05,"b":520,"g":120,"r":5},{"p":"Im. Freq. IQR.","x":0.055,"b":380,"g":80,"r":5},{"p":"Im. Freq. IQR.","x":0.06,"b":470,"g":110,"r":5},
    {"p":"Im. Freq. IQR.","x":0.065,"b":340,"g":70,"r":5},{"p":"Im. Freq. IQR.","x":0.07,"b":420,"g":95,"r":5},{"p":"Im. Freq. IQR.","x":0.075,"b":300,"g":60,"r":5},
    {"p":"Im. Freq. IQR.","x":0.08,"b":370,"g":80,"r":5},{"p":"Im. Freq. IQR.","x":0.09,"b":290,"g":55,"r":5},{"p":"Im. Freq. IQR.","x":0.1,"b":330,"g":65,"r":5},
    {"p":"Im. Freq. IQR.","x":0.11,"b":250,"g":45,"r":5},{"p":"Im. Freq. IQR.","x":0.12,"b":290,"g":50,"r":5},{"p":"Im. Freq. IQR.","x":0.14,"b":220,"g":35,"r":5},
    {"p":"Im. Freq. IQR.","x":0.16,"b":240,"g":38,"r":5},{"p":"Im. Freq. IQR.","x":0.18,"b":190,"g":28,"r":5},{"p":"Im. Freq. IQR.","x":0.2,"b":200,"g":25,"r":5},
    {"p":"Im. Freq. IQR.","x":0.23,"b":160,"g":22,"r":5},{"p":"Im. Freq. IQR.","x":0.26,"b":170,"g":20,"r":5},{"p":"Im. Freq. IQR.","x":0.3,"b":140,"g":15,"r":5},
    {"p":"Im. Freq. IQR.","x":0.35,"b":125,"g":13,"r":5},{"p":"Im. Freq. IQR.","x":0.4,"b":105,"g":10,"r":5},{"p":"Im. Freq. IQR.","x":0.43,"b":115,"g":10,"r":5},
    {"p":"Im. Freq. IQR.","x":0.46,"b":85,"g":9,"r":5},{"p":"Im. Freq. IQR.","x":0.5,"b":95,"g":9,"r":5},{"p":"Im. Freq. IQR.","x":0.55,"b":75,"g":8,"r":5},
    {"p":"Im. Freq. IQR.","x":0.6,"b":70,"g":8,"r":5},{"p":"Im. Freq. IQR.","x":0.7,"b":55,"g":8,"r":5},{"p":"Im. Freq. IQR.","x":0.8,"b":45,"g":8,"r":5},
    {"p":"Im. Freq. IQR.","x":0.9,"b":38,"g":8,"r":5},{"p":"Im. Freq. IQR.","x":1.0,"b":32,"g":8,"r":5},{"p":"Im. Freq. IQR.","x":1.1,"b":28,"g":8,"r":5},

    {"p":"Time Avg.","ly":0.68},{"p":"Time Med.","ly":0.79},{"p":"Time Std.","ly":14.3},{"p":"Time Min.","ly":81.6},
    {"p":"Time Max.","ly":14.1},{"p":"Int.","ly":0.67},{"p":"Avg. G.","ly":159},{"p":"Avg. N. G.","ly":91},
    {"p":"Max. S.","ly":22.6},{"p":"Min. S.","ly":6.4},{"p":"Avg. S.","ly":21},{"p":"Slope","ly":373},
    {"p":"Re. Freq. Avg.","ly":3.73},{"p":"Re. Freq. Med.","ly":20},{"p":"Re. Freq. Std.","ly":5.74},{"p":"Re. Freq. Min.","ly":0.35},
    {"p":"Re. Freq. Max.","ly":0.5},{"p":"Re. Freq. Sum","ly":3.93},{"p":"Re. Freq. IQR.","ly":1608},{"p":"Im. Freq. Avg.","ly":2.67},
    {"p":"Im. Freq. Med.","ly":14200},{"p":"Im. Freq. Min.","ly":0.57},{"p":"Im. Freq. Sum","ly":2.67},{"p":"Im. Freq. IQR.","ly":405}
  ]},
  "transform": [
    {
      "lookup": "p",
      "from": {
        "data": {"values": [
          {"p":"Time Avg.","row":0,"col":0},{"p":"Time Med.","row":0,"col":1},{"p":"Time Std.","row":0,"col":2},{"p":"Time Min.","row":0,"col":3},
          {"p":"Time Max.","row":1,"col":0},{"p":"Int.","row":1,"col":1},{"p":"Avg. G.","row":1,"col":2},{"p":"Avg. N. G.","row":1,"col":3},
          {"p":"Max. S.","row":2,"col":0},{"p":"Min. S.","row":2,"col":1},{"p":"Avg. S.","row":2,"col":2},{"p":"Slope","row":2,"col":3},
          {"p":"Re. Freq. Avg.","row":3,"col":0},{"p":"Re. Freq. Med.","row":3,"col":1},{"p":"Re. Freq. Std.","row":3,"col":2},{"p":"Re. Freq. Min.","row":3,"col":3},
          {"p":"Re. Freq. Max.","row":4,"col":0},{"p":"Re. Freq. Sum","row":4,"col":1},{"p":"Re. Freq. IQR.","row":4,"col":2},{"p":"Im. Freq. Avg.","row":4,"col":3},
          {"p":"Im. Freq. Med.","row":5,"col":0},{"p":"Im. Freq. Min.","row":5,"col":1},{"p":"Im. Freq. Sum","row":5,"col":2},{"p":"Im. Freq. IQR.","row":5,"col":3}
        ]},
        "key": "p",
        "fields": ["row", "col"]
      }
    }
  ],
  "facet": {
    "row": {
      "field": "row", "type": "ordinal", "title": "Relative difference",
      "header": {"labels": false, "titleFont": "Liberation Sans", "titleFontSize": 13, "titleFontWeight": "normal", "titleColor": "black", "titlePadding": 18}
    },
    "column": {
      "field": "col", "type": "ordinal", "title": "SNR",
      "header": {"labels": false, "titleOrient": "bottom", "titleFont": "Liberation Sans", "titleFontSize": 13, "titleFontWeight": "normal", "titleColor": "black", "titlePadding": 2}
    }
  },
  "bounds": "flush",
  "spacing": {"row": 10.4, "column": 31},
  "resolve": {"scale": {"y": "independent"}},
  "spec": {
    "width": 124,
    "height": 59,
    "layer": [
      {
        "transform": [{"filter": "isValid(datum.lo)"}],
        "mark": {"type": "area", "color": "#a9cbe8", "opacity": 0.75},
        "encoding": {
          "x": {"field": "x", "type": "quantitative", "title": null, "scale": {"domain": [-0.0025, 1.1525], "nice": false, "zero": false},
                "axis": {"values": [0.25, 0.5, 0.75, 1.0], "format": ".2f"}},
          "y": {"field": "lo", "type": "quantitative", "title": null, "scale": {"zero": false, "nice": false, "padding": 3}},
          "y2": {"field": "hi"}
        }
      },
      {
        "transform": [{"filter": "isValid(datum.glo)"}],
        "mark": {"type": "area", "color": "#f0c896", "opacity": 0.7},
        "encoding": {
          "x": {"field": "x", "type": "quantitative", "title": null},
          "y": {"field": "glo", "type": "quantitative", "title": null},
          "y2": {"field": "ghi"}
        }
      },
      {
        "transform": [
          {"filter": "isValid(datum.x)"},
          {"fold": ["b", "g", "r"], "as": ["s", "v"]}
        ],
        "mark": {"type": "line", "strokeWidth": 1.5},
        "encoding": {
          "x": {"field": "x", "type": "quantitative", "title": null},
          "y": {"field": "v", "type": "quantitative", "title": null,
                "axis": {"tickCount": 4, "format": "~r"}},
          "color": {"field": "s", "type": "nominal", "legend": null,
                    "scale": {"domain": ["b", "g", "r"], "range": ["#0000ff", "#2ca02c", "#ff0000"]}},
          "strokeDash": {"field": "s", "type": "nominal", "legend": null,
                         "scale": {"domain": ["b", "g", "r"], "range": [[1, 0], [1.2, 1.8], [4, 2]]}}
        }
      },
      {
        "transform": [{"filter": "isValid(datum.ly)"}],
        "mark": {"type": "point", "size": 4, "filled": true, "fill": "white", "stroke": "black", "strokeWidth": 1, "opacity": 1},
        "encoding": {
          "x": {"datum": 1.1, "type": "quantitative"},
          "y": {"field": "ly", "type": "quantitative", "title": null},
          "shape": {
            "field": "p", "type": "nominal", "legend": null,
            "scale": {
              "domain": ["Time Avg.","Time Med.","Time Std.","Time Min.","Time Max.","Int.","Avg. G.","Avg. N. G.","Max. S.","Min. S.","Avg. S.","Slope",
                         "Re. Freq. Avg.","Re. Freq. Med.","Re. Freq. Std.","Re. Freq. Min.","Re. Freq. Max.","Re. Freq. Sum","Re. Freq. IQR.","Im. Freq. Avg.",
                         "Im. Freq. Med.","Im. Freq. Min.","Im. Freq. Sum","Im. Freq. IQR."],
              "range": ["M-54,-11.5H0V11.5H-54Z","M-53,-11.5H0V11.5H-53Z","M-52,-11.5H0V11.5H-52Z","M-55,-11.5H0V11.5H-55Z",
                        "M-55,-11.5H0V11.5H-55Z","M-31,-11.5H0V11.5H-31Z","M-44,-11.5H0V11.5H-44Z","M-55,-11.5H0V11.5H-55Z",
                        "M-46,-11.5H0V11.5H-46Z","M-41,-11.5H0V11.5H-41Z","M-41,-11.5H0V11.5H-41Z","M-37,-11.5H0V11.5H-37Z",
                        "M-76,-11.5H0V11.5H-76Z","M-73,-11.5H0V11.5H-73Z","M-73,-11.5H0V11.5H-73Z","M-71,-11.5H0V11.5H-71Z",
                        "M-75,-11.5H0V11.5H-75Z","M-73,-11.5H0V11.5H-73Z","M-70,-11.5H0V11.5H-70Z","M-68,-11.5H0V11.5H-68Z",
                        "M-72,-11.5H0V11.5H-72Z","M-72,-11.5H0V11.5H-72Z","M-69,-11.5H0V11.5H-69Z","M-68,-11.5H0V11.5H-68Z"]
            }
          }
        }
      },
      {
        "transform": [{"filter": "isValid(datum.ly)"}],
        "mark": {"type": "text", "align": "right", "baseline": "middle", "dx": -8.5, "font": "Liberation Sans", "fontSize": 8.5, "color": "black"},
        "encoding": {
          "x": {"datum": 1.1, "type": "quantitative"},
          "y": {"field": "ly", "type": "quantitative", "title": null},
          "text": {"field": "p"}
        }
      }
    ]
  }
}
